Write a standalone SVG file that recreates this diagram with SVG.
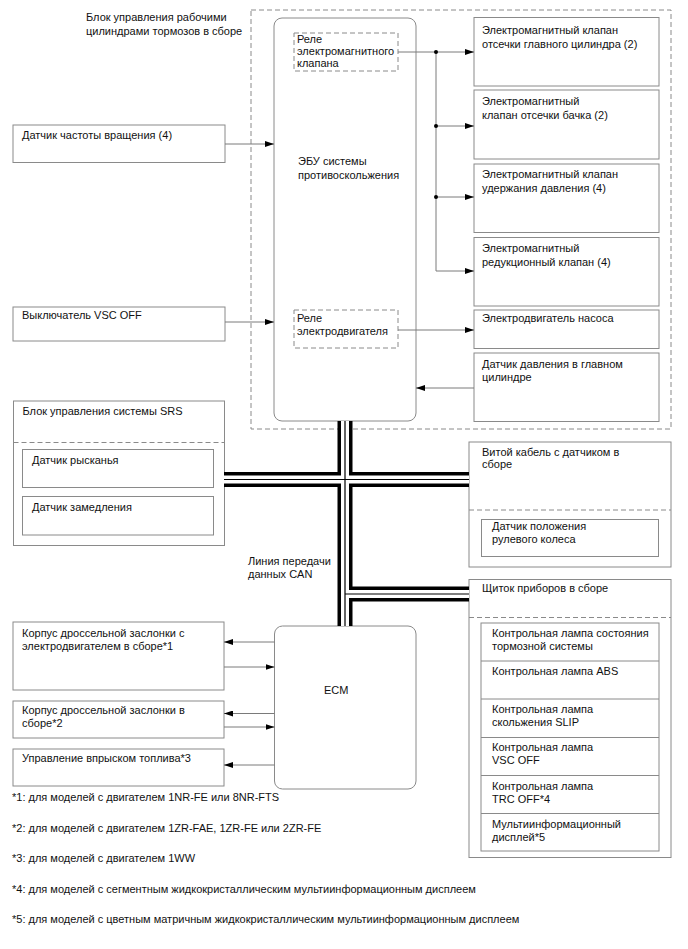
<svg xmlns="http://www.w3.org/2000/svg" width="688" height="949" viewBox="0 0 688 949">
<style>
text{font-family:"Liberation Sans",Arial,sans-serif;font-size:11px;fill:#111}
.box{fill:#fff;stroke:#8a8a8a;stroke-width:1}
.dash{fill:none;stroke:#8a8a8a;stroke-width:1;stroke-dasharray:5,3}
.dashbox{fill:#fff;stroke:#8a8a8a;stroke-width:1;stroke-dasharray:5,3}
.wire{fill:none;stroke:#7a7a7a;stroke-width:1}
.arr{marker-end:url(#ah)}
.busB{fill:none;stroke:#000;stroke-width:15}
.busW{fill:none;stroke:#fff;stroke-width:8}
.busC{fill:none;stroke:#000;stroke-width:1.2}
</style>
<defs>
<marker id="ah" markerUnits="userSpaceOnUse" markerWidth="9" markerHeight="6" refX="9" refY="3" orient="auto">
<path d="M0,0 L9,3 L0,6 z" fill="#000"/>
</marker>
</defs>
<rect width="688" height="949" fill="#fff"/>

<g id="brake-actuator-group">
<rect class="dash" x="251" y="10" width="420" height="419"/>
<text x="86" y="21">Блок управления рабочими</text>
<text x="86" y="35">цилиндрами тормозов в сборе</text>
</g>

<g id="abs-ecu">
<rect class="box" x="274" y="18" width="142" height="403" rx="8" stroke="#777"/>
<text x="298" y="165">ЭБУ системы</text>
<text x="298" y="179">противоскольжения</text>
</g>

<g id="solenoid-relay">
<rect class="dashbox" x="294" y="33" width="104" height="38"/>
<text x="297" y="42.5">Реле</text>
<text x="297" y="54.5">электромагнитного</text>
<text x="297" y="66.5">клапана</text>
</g>

<g id="motor-relay">
<rect class="dashbox" x="294" y="310" width="104" height="38"/>
<text x="297" y="322">Реле</text>
<text x="297" y="335">электродвигателя</text>
</g>

<g id="valve-master-cut">
<rect class="box" x="474" y="17.5" width="185" height="68.5"/>
<text x="482" y="34">Электромагнитный клапан</text>
<text x="482" y="47.5">отсечки главного цилиндра (2)</text>
</g>
<g id="valve-reservoir-cut">
<rect class="box" x="474" y="90" width="185" height="69"/>
<text x="482" y="105">Электромагнитный</text>
<text x="482" y="118.5">клапан отсечки бачка (2)</text>
</g>
<g id="valve-holding">
<rect class="box" x="474" y="164" width="185" height="68.5"/>
<text x="482" y="178">Электромагнитный клапан</text>
<text x="482" y="191.5">удержания давления (4)</text>
</g>
<g id="valve-reduction">
<rect class="box" x="474" y="237.5" width="185" height="68.5"/>
<text x="482" y="252">Электромагнитный</text>
<text x="482" y="265.5">редукционный клапан (4)</text>
</g>
<g id="pump-motor">
<rect class="box" x="474" y="310" width="185" height="38.5"/>
<text x="482" y="322">Электродвигатель насоса</text>
</g>
<g id="master-pressure-sensor">
<rect class="box" x="474" y="353" width="185" height="68.5"/>
<text x="482" y="367.5">Датчик давления в главном</text>
<text x="482" y="380.5">цилиндре</text>
</g>

<g id="speed-sensor">
<rect class="box" x="13" y="125" width="212" height="37.5"/>
<text x="22" y="139">Датчик частоты вращения (4)</text>
</g>
<g id="vsc-off-switch">
<rect class="box" x="13" y="307" width="212" height="34"/>
<text x="22" y="318.5">Выключатель VSC OFF</text>
</g>

<g id="srs-ecu">
<rect class="box" x="13.5" y="401" width="211" height="144.5"/>
<text x="22.5" y="415">Блок управления системы SRS</text>
<line class="dash" x1="13.5" y1="442.5" x2="224.5" y2="442.5"/>
<rect class="box" x="22.5" y="449.5" width="191" height="38"/>
<text x="32" y="463.5">Датчик рысканья</text>
<rect class="box" x="22.5" y="496.5" width="191" height="38.5"/>
<text x="32" y="510.5">Датчик замедления</text>
</g>

<g id="spiral-cable">
<rect class="box" x="469" y="442" width="202" height="125"/>
<text x="482" y="455.5">Витой кабель с датчиком в</text>
<text x="482" y="468">сборе</text>
<line class="dash" x1="469" y1="510" x2="671" y2="510"/>
<rect class="box" x="481.5" y="519.5" width="177" height="37"/>
<text x="492" y="530">Датчик положения</text>
<text x="492" y="543">рулевого колеса</text>
</g>

<g id="combination-meter">
<rect class="box" x="469" y="579.5" width="202" height="278"/>
<text x="482" y="592">Щиток приборов в сборе</text>
<line class="dash" x1="469" y1="617.5" x2="671" y2="617.5"/>
<rect class="box" x="481" y="623" width="178" height="228"/>
<line class="box" x1="481" y1="661" x2="659" y2="661"/>
<line class="box" x1="481" y1="699" x2="659" y2="699"/>
<line class="box" x1="481" y1="737.5" x2="659" y2="737.5"/>
<line class="box" x1="481" y1="775.5" x2="659" y2="775.5"/>
<line class="box" x1="481" y1="813.5" x2="659" y2="813.5"/>
<text x="492" y="637">Контрольная лампа состояния</text>
<text x="492" y="650">тормозной системы</text>
<text x="492" y="675">Контрольная лампа ABS</text>
<text x="492" y="713">Контрольная лампа</text>
<text x="492" y="725.5">скольжения SLIP</text>
<text x="492" y="751">Контрольная лампа</text>
<text x="492" y="764">VSC OFF</text>
<text x="492" y="789.5">Контрольная лампа</text>
<text x="492" y="802.5">TRC OFF*4</text>
<text x="492" y="827.5">Мультиинформационный</text>
<text x="492" y="840.5">дисплей*5</text>
</g>

<g id="ecm">
<rect class="box" x="274.5" y="626" width="141.5" height="163" rx="8" stroke="#777"/>
<text x="324" y="694">ECM</text>
</g>

<g id="throttle-motor">
<rect class="box" x="13" y="622" width="211" height="68"/>
<text x="22" y="637">Корпус дроссельной заслонки с</text>
<text x="22" y="649.5">электродвигателем в сборе*1</text>
</g>
<g id="throttle-body">
<rect class="box" x="13" y="701" width="211" height="37"/>
<text x="22" y="714">Корпус дроссельной заслонки в</text>
<text x="22" y="727">сборе*2</text>
</g>
<g id="fuel-injection">
<rect class="box" x="13" y="749" width="211" height="37"/>
<text x="22" y="762">Управление впрыском топлива*3</text>
</g>

<g id="can-label">
<text x="248" y="565">Линия передачи</text>
<text x="248" y="577.5">данных CAN</text>
</g>

<g id="connectors">
<path class="wire arr" d="M225,144 H274"/>
<path class="wire arr" d="M225,322 H274"/>
<path class="wire arr" d="M398,52 H474"/>
<path class="wire arr" d="M436,126 H474"/>
<path class="wire arr" d="M436,197 H474"/>
<path class="wire arr" d="M436,52 V271 H474"/>
<circle cx="436" cy="52" r="2" fill="#000"/>
<circle cx="436" cy="126" r="2" fill="#000"/>
<circle cx="436" cy="197" r="2" fill="#000"/>
<path class="wire arr" d="M398,330 H474"/>
<path class="wire arr" d="M474,388 H416"/>
<path class="wire arr" d="M274.5,642 H224"/>
<path class="wire arr" d="M224,667 H274.5"/>
<path class="wire arr" d="M274.5,713.5 H224"/>
<path class="wire arr" d="M224,727 H274.5"/>
<path class="wire arr" d="M274.5,765 H224"/>
<g id="can-bus">
<path class="busB" d="M345,421 V626 M224,479.5 H469 M345,594 H469"/>
<path class="busW" d="M345,421 V626 M224,479.5 H469 M345,594 H469"/>
<path class="busC" d="M345,421 V626 M224,479.5 H469 M345,594 H469"/>
</g>
</g>

<g id="footnotes">
<text x="12" y="801">*1: для моделей с двигателем 1NR-FE или 8NR-FTS</text>
<text x="12" y="832">*2: для моделей с двигателем 1ZR-FAE, 1ZR-FE или 2ZR-FE</text>
<text x="12" y="862">*3: для моделей с двигателем 1WW</text>
<text x="12" y="892.5">*4: для моделей с сегментным жидкокристаллическим мультиинформационным дисплеем</text>
<text x="12" y="923">*5: для моделей с цветным матричным жидкокристаллическим мультиинформационным дисплеем</text>
</g>
</svg>
